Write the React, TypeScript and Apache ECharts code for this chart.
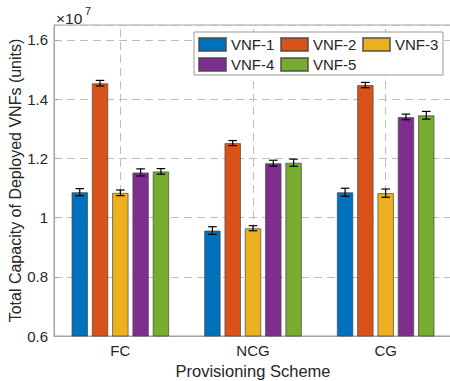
import React, { useEffect, useRef } from "react";
import * as echarts from "echarts";

// Provisioning schemes on the x axis
const schemes = ["FC", "NCG", "CG"];
const vnfNames = ["VNF-1", "VNF-2", "VNF-3", "VNF-4", "VNF-5"];

// Mean total capacity (units) per VNF type, one value per scheme
const vnf1 = [10856000, 9560000, 10853000];
const vnf2 = [14535000, 12514000, 14472000];
const vnf3 = [10834000, 9638000, 10824000];
const vnf4 = [11523000, 11834000, 13396000];
const vnf5 = [11557000, 11851000, 13452000];

// Half-width of the error bars (units)
const err1 = [120000, 130000, 135000];
const err2 = [95000, 85000, 90000];
const err3 = [95000, 85000, 140000];
const err4 = [120000, 100000, 95000];
const err5 = [95000, 120000, 130000];

const means = [vnf1, vnf2, vnf3, vnf4, vnf5];
const errs = [err1, err2, err3, err4, err5];
const colors = ["#0072BD", "#D95319", "#EDB120", "#7E2F8E", "#77AC30"];

const FONT = "'Liberation Sans', Arial, Helvetica, sans-serif";
const BAR_WIDTH = 16.5;
const BAR_GAP = 0.23;
const GRID_COLOR = "#bdbdbd";
const AXIS_COLOR = "#a3a3a3";
const TEXT_COLOR = "#262626";

export default function App() {
  const ref = useRef<HTMLDivElement>(null);

  useEffect(() => {
    if (!ref.current) return;
    const chart = echarts.init(ref.current, undefined, { renderer: "svg" });
    const step = BAR_WIDTH * (1 + BAR_GAP);
    const n = vnfNames.length;

    const barSeries = vnfNames.map((name, k) => ({
      name,
      type: "bar" as const,
      data: means[k],
      barWidth: BAR_WIDTH,
      barGap: `${BAR_GAP * 100}%`,
      z: 3,
      itemStyle: {
        color: colors[k],
        borderColor: "rgba(70,70,70,0.7)",
        borderWidth: 1,
      },
    }));

    const errorSeries = vnfNames.map((name, k) => ({
      name: name + " error",
      type: "custom" as const,
      z: 5,
      silent: true,
      encode: { x: 0, y: 1 },
      data: means[k].map((m, i) => [i, m, errs[k][i]]),
      renderItem: (_params: any, api: any) => {
        const ci = api.value(0);
        const m = api.value(1);
        const e = api.value(2);
        const hi = api.coord([ci, m + e]);
        const lo = api.coord([ci, m - e]);
        const x = hi[0] + (k - (n - 1) / 2) * step;
        const cap = 4.3;
        const style = { stroke: "#000", lineWidth: 1.2 };
        return {
          type: "group",
          children: [
            { type: "line", shape: { x1: x, y1: hi[1], x2: x, y2: lo[1] }, style },
            { type: "line", shape: { x1: x - cap, y1: hi[1], x2: x + cap, y2: hi[1] }, style },
            { type: "line", shape: { x1: x - cap, y1: lo[1], x2: x + cap, y2: lo[1] }, style },
          ],
        };
      },
    }));

    // Vertical dashed grid lines at each scheme
    const vGrid = {
      name: "vgrid",
      type: "line" as const,
      data: [],
      z: 1,
      silent: true,
      markLine: {
        silent: true,
        z: 1,
        symbol: "none",
        label: { show: false },
        lineStyle: { type: [8, 5], color: GRID_COLOR, width: 1 },
        data: schemes.map((s) => ({ xAxis: s })),
      },
    };

    chart.setOption({
      animation: false,
      textStyle: { fontFamily: FONT },
      grid: {
        left: 54,
        right: -2,
        top: 25,
        bottom: 45,
        outerBoundsMode: "none",
        containLabel: false,
        show: true,
        borderColor: AXIS_COLOR,
        borderWidth: 1,
      },
      legend: {
        data: vnfNames,
        left: 194,
        top: 32,
        width: 256,
        padding: [5, 4, 3, 4],
        itemGap: 5,
        itemWidth: 27,
        itemHeight: 13,
        borderColor: "#9a9a9a",
        borderWidth: 1,
        backgroundColor: "#fff",
        icon: "rect",
        textStyle: {
          fontFamily: FONT,
          fontSize: 15,
          color: TEXT_COLOR,
          width: 44,
          lineHeight: 13,
        },
      },
      xAxis: {
        type: "category",
        data: schemes,
        name: "Provisioning Scheme",
        nameLocation: "middle",
        nameGap: 26,
        nameMoveOverlap: false,
        nameTextStyle: { fontFamily: FONT, fontSize: 16.5, color: TEXT_COLOR },
        axisLine: { lineStyle: { color: AXIS_COLOR } },
        axisTick: { inside: true, alignWithLabel: true, length: 4, lineStyle: { color: AXIS_COLOR } },
        axisLabel: { fontFamily: FONT, fontSize: 15, color: TEXT_COLOR, margin: 7 },
        splitLine: { show: false },
      },
      yAxis: {
        type: "value",
        min: 6000000,
        max: 16500000,
        interval: 2000000,
        name: "Total Capacity of Deployed VNFs (units)",
        nameLocation: "middle",
        nameGap: 31,
        nameMoveOverlap: false,
        nameTextStyle: { fontFamily: FONT, fontSize: 16, color: TEXT_COLOR },
        axisLine: { show: true, lineStyle: { color: AXIS_COLOR } },
        axisTick: { show: true, inside: true, length: 4, lineStyle: { color: AXIS_COLOR } },
        axisLabel: {
          fontFamily: FONT,
          fontSize: 15,
          color: TEXT_COLOR,
          margin: 6,
          showMaxLabel: false,
          formatter: (v: number) => String(+(v / 1e7).toFixed(2)),
        },
        splitLine: { show: true, lineStyle: { type: [8, 5], color: GRID_COLOR, width: 1 } },
      },
      graphic: [
        {
          type: "text",
          left: 56,
          top: 10,
          style: { text: "×10", fontFamily: FONT, fontSize: 15.5, fill: TEXT_COLOR },
        },
        {
          type: "text",
          left: 85,
          top: 5,
          style: { text: "7", fontFamily: FONT, fontSize: 11, fill: TEXT_COLOR },
        },
      ],
      series: [vGrid, ...barSeries, ...errorSeries],
    });

    return () => chart.dispose();
  }, []);

  return (
    <div
      ref={ref}
      style={{ position: "absolute", left: 0, top: 0, width: 450, height: 381, background: "#fff" }}
    />
  );
}
